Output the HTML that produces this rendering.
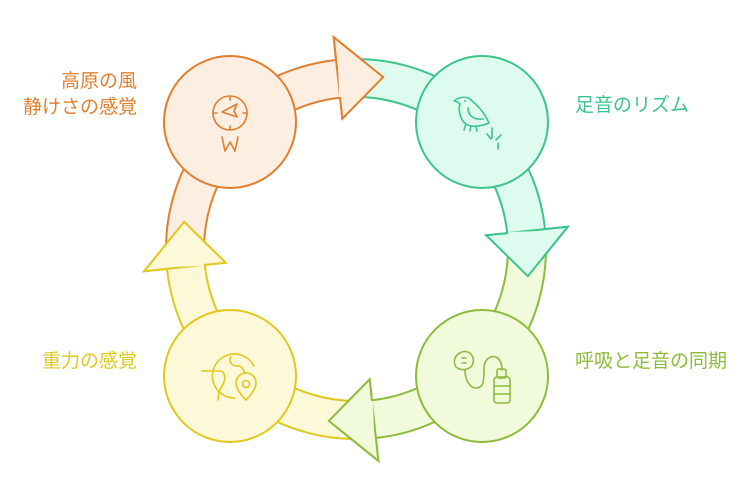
<!DOCTYPE html>
<html><head><meta charset="utf-8"><style>
body{margin:0;background:#fff;width:750px;height:490px;overflow:hidden}
svg{display:block}
text{font-family:"Liberation Sans","Noto Sans CJK JP",sans-serif;font-size:19px}
</style></head><body>
<svg width="750" height="490" viewBox="0 0 750 490" xmlns="http://www.w3.org/2000/svg">
<defs>
<path id="arr" d="M166.6,263.9 A190,190 0 0 1 336.1,60 L333.7,37.2 L383.2,77.1 L342.3,118.7 L340.1,97.8 A152,152 0 0 0 204.5,260.9 Z"/>
<path id="head" d="M336.1,60 L333.7,37.2 L383.2,77.1 L342.3,118.7 L340.1,97.8 Z"/>
<path id="mask" d="M339.5,61 L340.5,97"/>
</defs>
<g stroke-width="2" stroke-linejoin="miter">
<use href="#arr" fill="#fdeee2" stroke="#e07f2e"/>
<use href="#arr" fill="#ddfbef" stroke="#3cc48a" transform="rotate(90 356 249)"/>
<use href="#arr" fill="#f1fbdc" stroke="#8dbb3b" transform="rotate(180 356 249)"/>
<use href="#arr" fill="#fdf8d8" stroke="#e0c81e" transform="rotate(270 356 249)"/>
<g><use href="#head" fill="#fdeee2" stroke="#e07f2e"/><use href="#mask" stroke="#fdeee2" stroke-width="3"/></g>
<g transform="rotate(90 356 249)"><use href="#head" fill="#ddfbef" stroke="#3cc48a"/><use href="#mask" stroke="#ddfbef" stroke-width="3"/></g>
<g transform="rotate(180 356 249)"><use href="#head" fill="#f1fbdc" stroke="#8dbb3b"/><use href="#mask" stroke="#f1fbdc" stroke-width="3"/></g>
<g transform="rotate(270 356 249)"><use href="#head" fill="#fdf8d8" stroke="#e0c81e"/><use href="#mask" stroke="#fdf8d8" stroke-width="3"/></g>
<circle cx="230" cy="122" r="66" fill="#fdeee2" stroke="#e07f2e"/>
<circle cx="482" cy="122" r="66" fill="#ddfbef" stroke="#3cc48a"/>
<circle cx="482" cy="376" r="66" fill="#f1fbdc" stroke="#8dbb3b"/>
<circle cx="230" cy="376" r="66" fill="#fdf8d8" stroke="#e0c81e"/>
</g>
<g fill="none" stroke-width="1.6" stroke-linecap="round" stroke-linejoin="round">
<g stroke="#e07f2e">
<circle cx="230" cy="113" r="17"/>
<path d="M230,96v4M230,126v4M213,113h4M243,113h4"/>
<path d="M237,104 L222,112 L237,117 L234,111 Z"/>
<path d="M222,137 L225,151 L230,142 L235,151 L238,137"/>
</g>
<g stroke="#3cc48a">
<path d="M454,101 C460,96 468,96 472,101 C478,106 484,112 489,123 C482,126 472,128 466,124 C460,120 458,110 460,104 C458,102 456,101 454,101"/>
<path d="M468,108 C468,116 474,120 483,119"/>
<path d="M466,124 l-2,6 M471,126 l-1,5 M476,126 l1,5"/>
<path d="M492,128 v10 M496,140 l5,-5 M487,134 l4,5 M498,143 v6"/>
</g>
<circle cx="465" cy="101" r="1" fill="#3cc48a"/>
<g stroke="#8dbb3b">
<path d="M462,352 C468,350 475,355 473,363 C472,369 462,372 456,367 C452,360 456,354 462,352 Z"/>
<path d="M462,358h4M462,363h4"/>
<path d="M465,370 C465,380 470,388 476,388 C484,388 484,380 484,368 C484,360 490,355 496,357 C502,360 502,367 502,370"/>
<rect x="497" y="369" width="9" height="9" rx="2"/>
<rect x="494" y="377" width="16" height="26" rx="3"/>
<path d="M494,386h16M494,394h16"/>
</g>
<g stroke="#e0c81e">
<path d="M235,398 A22,22 0 1 1 254,366"/>
<path d="M202,371 h18 C226,372 226,380 222,386 C218,392 218,398 218,400"/>
<path d="M231,357 C228,362 232,366 238,366 C244,366 243,372 245,373"/>
<path d="M246,400 C238,392 236,386 236,383 A10,10 0 0 1 256,383 C256,386 254,392 246,400 Z"/>
<circle cx="246" cy="384" r="3.5"/>
</g>
</g>
<text x="137" y="87" fill="#e07f2e" text-anchor="end">高原の風</text>
<text x="137" y="113" fill="#e07f2e" text-anchor="end">静けさの感覚</text>
<text x="575" y="111" fill="#3cc48a">足音のリズム</text>
<text x="575" y="367" fill="#8dbb3b">呼吸と足音の同期</text>
<text x="137" y="367" fill="#e0c81e" text-anchor="end">重力の感覚</text>
</svg>
</body></html>
